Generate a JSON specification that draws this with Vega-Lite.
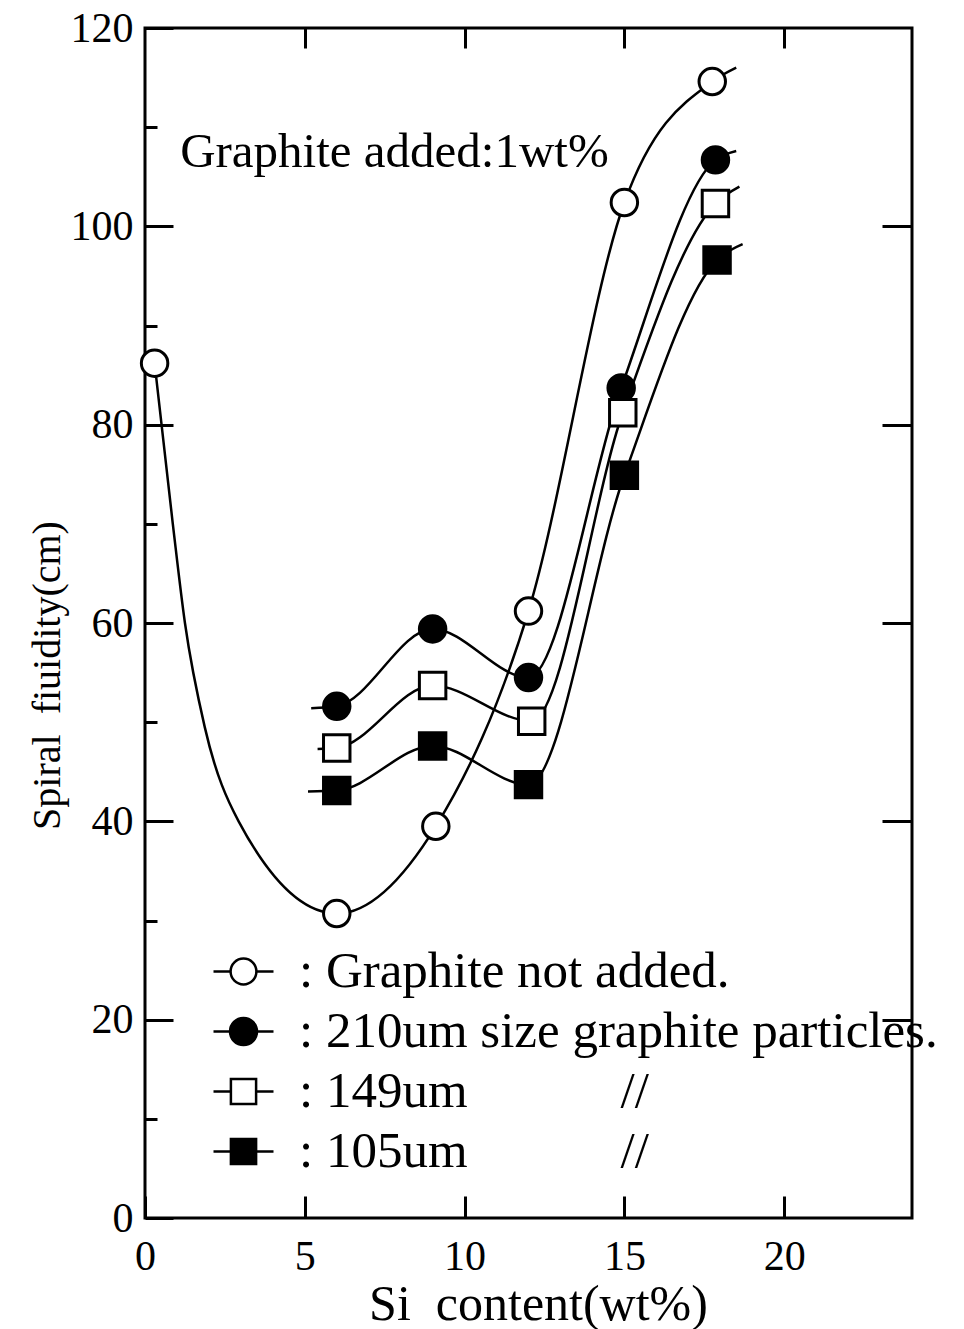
{
  "$schema": "https://vega.github.io/schema/vega-lite/v6.json",
  "width": 767,
  "height": 1190,
  "autosize": {"type": "none"},
  "padding": {"left": 145, "top": 28, "right": 52, "bottom": 111},
  "background": "white",
  "config": {
    "view": {"stroke": "black", "strokeWidth": 3},
    "font": "Liberation Serif",
    "axis": {
      "domain": false,
      "grid": false,
      "labelFlush": false,
      "labelFont": "Liberation Serif",
      "labelFontSize": 42,
      "labelColor": "black",
      "tickColor": "black",
      "tickWidth": 3,
      "titleFont": "Liberation Serif",
      "titleFontWeight": "normal",
      "titleColor": "black"
    },
    "legend": {
      "labelFont": "Liberation Serif",
      "labelFontSize": 51,
      "labelColor": "black",
      "labelLimit": 0
    }
  },
  "data": {
    "values": [
      {"series": "none", "si": 0.3, "fluidity": 86.2, "marker": true},
      {"series": "none", "si": 0.87, "fluidity": 70.0, "marker": false},
      {"series": "none", "si": 1.25, "fluidity": 60.0, "marker": false},
      {"series": "none", "si": 1.87, "fluidity": 49.5, "marker": false},
      {"series": "none", "si": 2.93, "fluidity": 40.0, "marker": false},
      {"series": "none", "si": 6.0, "fluidity": 30.7, "marker": true},
      {"series": "none", "si": 9.1, "fluidity": 39.5, "marker": true},
      {"series": "none", "si": 12.0, "fluidity": 61.2, "marker": true},
      {"series": "none", "si": 15.0, "fluidity": 102.4, "marker": true},
      {"series": "none", "si": 17.75, "fluidity": 114.6, "marker": true},
      {"series": "none", "si": 18.5, "fluidity": 116.0, "marker": false},
      {"series": "210um", "si": 5.2, "fluidity": 51.4, "marker": false},
      {"series": "210um", "si": 6.0, "fluidity": 51.6, "marker": true},
      {"series": "210um", "si": 9.0, "fluidity": 59.4, "marker": true},
      {"series": "210um", "si": 12.0, "fluidity": 54.5, "marker": true},
      {"series": "210um", "si": 14.9, "fluidity": 83.7, "marker": true},
      {"series": "210um", "si": 17.85, "fluidity": 106.7, "marker": true},
      {"series": "210um", "si": 18.5, "fluidity": 107.6, "marker": false},
      {"series": "149um", "si": 5.4, "fluidity": 47.3, "marker": false},
      {"series": "149um", "si": 6.0, "fluidity": 47.4, "marker": true},
      {"series": "149um", "si": 9.0, "fluidity": 53.7, "marker": true},
      {"series": "149um", "si": 12.1, "fluidity": 50.1, "marker": true},
      {"series": "149um", "si": 14.95, "fluidity": 81.2, "marker": true},
      {"series": "149um", "si": 17.85, "fluidity": 102.3, "marker": true},
      {"series": "149um", "si": 18.6, "fluidity": 104.0, "marker": false},
      {"series": "105um", "si": 5.1, "fluidity": 43.0, "marker": false},
      {"series": "105um", "si": 6.0, "fluidity": 43.1, "marker": true},
      {"series": "105um", "si": 9.0, "fluidity": 47.6, "marker": true},
      {"series": "105um", "si": 12.0, "fluidity": 43.7, "marker": true},
      {"series": "105um", "si": 15.0, "fluidity": 74.9, "marker": true},
      {"series": "105um", "si": 17.9, "fluidity": 96.6, "marker": true},
      {"series": "105um", "si": 18.7, "fluidity": 98.2, "marker": false}
    ]
  },
  "layer": [
    {
      "mark": {"type": "line", "interpolate": "monotone", "color": "black", "strokeWidth": 2.5},
      "encoding": {
        "x": {
          "field": "si", "type": "quantitative",
          "scale": {"domain": [0, 24], "nice": false, "zero": false},
          "axis": {
            "orient": "bottom", "values": [0, 5, 10, 15, 20], "tickSize": -22,
            "labelPadding": 40, "title": "Si\u00a0 content(wt%)", "titleFontSize": 50,
            "titleX": 393, "titleY": 86, "titleBaseline": "middle", "titleAnchor": "middle"
          }
        },
        "y": {
          "field": "fluidity", "type": "quantitative",
          "scale": {"domain": [0, 120], "nice": false},
          "axis": {
            "orient": "left", "values": [0, 20, 40, 60, 80, 100, 120], "tickSize": -28,
            "labelPadding": 40, "title": "Spiral\u00a0 fiuidity(cm)", "titleFontSize": 40,
            "titleX": -98, "titleY": 647, "titleBaseline": "middle", "titleAnchor": "middle"
          }
        },
        "detail": {"field": "series"}
      }
    },
    {
      "transform": [{"filter": "datum.marker"}],
      "mark": {"type": "point", "filled": true, "stroke": "black", "strokeWidth": 3, "size": 700, "opacity": 1},
      "encoding": {
        "x": {
          "field": "si", "type": "quantitative",
          "axis": {"orient": "top", "values": [5, 10, 15, 20], "tickSize": -20, "labels": false, "title": null}
        },
        "y": {
          "field": "fluidity", "type": "quantitative",
          "axis": {"orient": "right", "values": [20, 40, 60, 80, 100], "tickSize": -30, "labels": false, "title": null}
        },
        "shape": {
          "field": "series", "type": "nominal",
          "scale": {"domain": ["none", "210um", "149um", "105um"], "range": ["circle", "circle", "square", "square"]},
          "legend": null
        },
        "fill": {
          "field": "series", "type": "nominal",
          "scale": {"domain": ["none", "210um", "149um", "105um"], "range": ["white", "black", "white", "black"]},
          "legend": null
        }
      }
    },
    {
      "transform": [{"filter": "datum.marker"}],
      "mark": {"type": "point", "filled": true, "stroke": "black", "strokeWidth": 2.5, "size": 700, "opacity": 0},
      "encoding": {
        "x": {"field": "si", "type": "quantitative", "axis": null},
        "y": {"field": "fluidity", "type": "quantitative", "axis": null},
        "fill": {
          "field": "series", "type": "nominal",
          "scale": {"domain": ["none", "210um", "149um", "105um"], "range": ["white", "black", "white", "black"]},
          "legend": {
            "orient": "none", "legendX": 67, "legendY": 912, "title": null,
            "symbolSize": 3600, "symbolStrokeWidth": 2.5, "symbolStrokeColor": "black",
            "symbolOpacity": 1, "labelOffset": 24, "rowPadding": 3,
            "labelExpr": "datum.label == 'none' ? ': Graphite not added.' : datum.label == '210um' ? ': 210um size graphite particles.' : ': ' + datum.label + '\u00a0\u00a0\u00a0\u00a0\u00a0\u00a0\u00a0\u00a0\u00a0\u00a0\u00a0\u00a0//'",
            "encode": {
              "symbols": {
                "update": {
                  "shape": {"signal": "datum.value == 'none' ? 'M-1,0L-0.43,0M0.43,0A0.43,0.43,0,1,1,-0.43,0A0.43,0.43,0,1,1,0.43,0M0.43,0L1,0' : datum.value == '210um' ? 'M-1,0L-0.45,0M0.45,0A0.45,0.45,0,1,1,-0.45,0A0.45,0.45,0,1,1,0.45,0M0.45,0L1,0' : 'M-1,0L-0.42,0M-0.42,-0.42L0.42,-0.42L0.42,0.42L-0.42,0.42ZM0.42,0L1,0'"},
                  "stroke": {"value": "black"},
                  "strokeWidth": {"value": 2.5},
                  "opacity": {"value": 1},
                  "size": {"value": 3600}
                }
              }
            }
          }
        }
      }
    },
    {
      "data": {"values": [{}]},
      "mark": {"type": "text", "align": "left", "baseline": "alphabetic", "fontSize": 49, "font": "Liberation Serif", "color": "black"},
      "encoding": {
        "x": {"datum": 1.1, "type": "quantitative", "axis": null},
        "y": {
          "datum": 106, "type": "quantitative",
          "axis": {"orient": "left", "values": [10, 30, 50, 70, 90, 110], "tickSize": -12, "labels": false, "title": null}
        },
        "text": {"value": "Graphite added:1wt%"}
      }
    }
  ],
  "resolve": {
    "scale": {"fill": "independent", "shape": "independent"},
    "legend": {"fill": "independent", "shape": "independent"},
    "axis": {"x": "independent", "y": "independent"}
  }
}
